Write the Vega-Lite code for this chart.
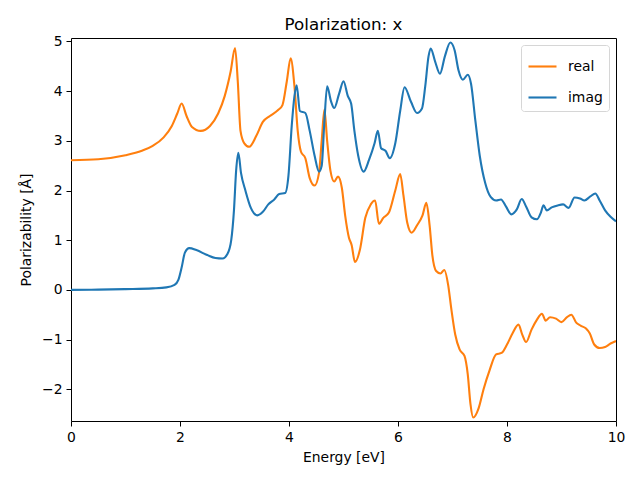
{
  "$schema": "https://vega.github.io/schema/vega-lite/v6.json",
  "width": 545,
  "height": 383,
  "autosize": "none",
  "padding": {"left": 71, "top": 38, "right": 24, "bottom": 59},
  "background": "white",
  "title": {"text": "Polarization: x", "font": "DejaVu Sans", "fontSize": 16.7, "fontWeight": "normal", "color": "black", "offset": 1},
  "config": {
    "view": {"stroke": "black", "strokeWidth": 1},
    "axis": {"grid": false, "domain": false, "tickColor": "black", "tickSize": 5, "tickWidth": 1, "labelFlush": false, "labelFont": "DejaVu Sans", "labelFontSize": 13.9, "labelColor": "black", "labelPadding": 4, "titleFont": "DejaVu Sans", "titleFontSize": 13.9, "titleFontWeight": "normal", "titleColor": "black"}
  },
  "data": {"values": [
    {"e": 0, "v": 2.61, "s": "real"},
    {"e": 0.5, "v": 2.63, "s": "real"},
    {"e": 1.0, "v": 2.71, "s": "real"},
    {"e": 1.3, "v": 2.8, "s": "real"},
    {"e": 1.5, "v": 2.9, "s": "real"},
    {"e": 1.7, "v": 3.07, "s": "real"},
    {"e": 1.85, "v": 3.3, "s": "real"},
    {"e": 1.95, "v": 3.55, "s": "real"},
    {"e": 2.03, "v": 3.75, "s": "real"},
    {"e": 2.12, "v": 3.5, "s": "real"},
    {"e": 2.22, "v": 3.28, "s": "real"},
    {"e": 2.38, "v": 3.2, "s": "real"},
    {"e": 2.55, "v": 3.3, "s": "real"},
    {"e": 2.7, "v": 3.55, "s": "real"},
    {"e": 2.82, "v": 3.9, "s": "real"},
    {"e": 2.93, "v": 4.4, "s": "real"},
    {"e": 3.01, "v": 4.87, "s": "real"},
    {"e": 3.06, "v": 4.2, "s": "real"},
    {"e": 3.11, "v": 3.2, "s": "real"},
    {"e": 3.18, "v": 2.95, "s": "real"},
    {"e": 3.27, "v": 2.88, "s": "real"},
    {"e": 3.4, "v": 3.1, "s": "real"},
    {"e": 3.52, "v": 3.38, "s": "real"},
    {"e": 3.65, "v": 3.5, "s": "real"},
    {"e": 3.8, "v": 3.62, "s": "real"},
    {"e": 3.88, "v": 3.72, "s": "real"},
    {"e": 3.96, "v": 4.2, "s": "real"},
    {"e": 4.03, "v": 4.66, "s": "real"},
    {"e": 4.1, "v": 4.1, "s": "real"},
    {"e": 4.16, "v": 3.2, "s": "real"},
    {"e": 4.22, "v": 2.78, "s": "real"},
    {"e": 4.3, "v": 2.65, "s": "real"},
    {"e": 4.38, "v": 2.25, "s": "real"},
    {"e": 4.47, "v": 2.1, "s": "real"},
    {"e": 4.55, "v": 2.35, "s": "real"},
    {"e": 4.6, "v": 3.0, "s": "real"},
    {"e": 4.65, "v": 3.63, "s": "real"},
    {"e": 4.7, "v": 3.0, "s": "real"},
    {"e": 4.76, "v": 2.4, "s": "real"},
    {"e": 4.83, "v": 2.18, "s": "real"},
    {"e": 4.9, "v": 2.28, "s": "real"},
    {"e": 4.97, "v": 2.05, "s": "real"},
    {"e": 5.03, "v": 1.5, "s": "real"},
    {"e": 5.1, "v": 1.05, "s": "real"},
    {"e": 5.15, "v": 0.9, "s": "real"},
    {"e": 5.21, "v": 0.56, "s": "real"},
    {"e": 5.3, "v": 0.8, "s": "real"},
    {"e": 5.4, "v": 1.45, "s": "real"},
    {"e": 5.5, "v": 1.72, "s": "real"},
    {"e": 5.58, "v": 1.8, "s": "real"},
    {"e": 5.65, "v": 1.33, "s": "real"},
    {"e": 5.73, "v": 1.45, "s": "real"},
    {"e": 5.83, "v": 1.55, "s": "real"},
    {"e": 5.95, "v": 2.0, "s": "real"},
    {"e": 6.04, "v": 2.33, "s": "real"},
    {"e": 6.1, "v": 1.9, "s": "real"},
    {"e": 6.17, "v": 1.35, "s": "real"},
    {"e": 6.25, "v": 1.15, "s": "real"},
    {"e": 6.35, "v": 1.3, "s": "real"},
    {"e": 6.45, "v": 1.5, "s": "real"},
    {"e": 6.52, "v": 1.75, "s": "real"},
    {"e": 6.58, "v": 1.3, "s": "real"},
    {"e": 6.63, "v": 0.7, "s": "real"},
    {"e": 6.7, "v": 0.38, "s": "real"},
    {"e": 6.78, "v": 0.33, "s": "real"},
    {"e": 6.85, "v": 0.4, "s": "real"},
    {"e": 6.92, "v": 0.1, "s": "real"},
    {"e": 6.98, "v": -0.4, "s": "real"},
    {"e": 7.05, "v": -0.9, "s": "real"},
    {"e": 7.13, "v": -1.2, "s": "real"},
    {"e": 7.22, "v": -1.33, "s": "real"},
    {"e": 7.28, "v": -1.7, "s": "real"},
    {"e": 7.33, "v": -2.3, "s": "real"},
    {"e": 7.38, "v": -2.57, "s": "real"},
    {"e": 7.48, "v": -2.38, "s": "real"},
    {"e": 7.57, "v": -2.0, "s": "real"},
    {"e": 7.68, "v": -1.62, "s": "real"},
    {"e": 7.8, "v": -1.3, "s": "real"},
    {"e": 7.9, "v": -1.27, "s": "real"},
    {"e": 8.0, "v": -1.1, "s": "real"},
    {"e": 8.1, "v": -0.88, "s": "real"},
    {"e": 8.21, "v": -0.7, "s": "real"},
    {"e": 8.28, "v": -0.9, "s": "real"},
    {"e": 8.35, "v": -1.05, "s": "real"},
    {"e": 8.45, "v": -0.8, "s": "real"},
    {"e": 8.55, "v": -0.6, "s": "real"},
    {"e": 8.64, "v": -0.48, "s": "real"},
    {"e": 8.71, "v": -0.62, "s": "real"},
    {"e": 8.79, "v": -0.55, "s": "real"},
    {"e": 8.9, "v": -0.58, "s": "real"},
    {"e": 9.0, "v": -0.65, "s": "real"},
    {"e": 9.1, "v": -0.55, "s": "real"},
    {"e": 9.18, "v": -0.5, "s": "real"},
    {"e": 9.27, "v": -0.66, "s": "real"},
    {"e": 9.35, "v": -0.72, "s": "real"},
    {"e": 9.45, "v": -0.78, "s": "real"},
    {"e": 9.52, "v": -0.88, "s": "real"},
    {"e": 9.6, "v": -1.1, "s": "real"},
    {"e": 9.7, "v": -1.17, "s": "real"},
    {"e": 9.8, "v": -1.15, "s": "real"},
    {"e": 9.9, "v": -1.08, "s": "real"},
    {"e": 10.0, "v": -1.03, "s": "real"},
    {"e": 0, "v": 0.0, "s": "imag"},
    {"e": 0.5, "v": 0.005, "s": "imag"},
    {"e": 1.0, "v": 0.015, "s": "imag"},
    {"e": 1.5, "v": 0.03, "s": "imag"},
    {"e": 1.75, "v": 0.05, "s": "imag"},
    {"e": 1.9, "v": 0.1, "s": "imag"},
    {"e": 1.97, "v": 0.2, "s": "imag"},
    {"e": 2.03, "v": 0.45, "s": "imag"},
    {"e": 2.09, "v": 0.75, "s": "imag"},
    {"e": 2.17, "v": 0.84, "s": "imag"},
    {"e": 2.3, "v": 0.8, "s": "imag"},
    {"e": 2.5, "v": 0.7, "s": "imag"},
    {"e": 2.65, "v": 0.64, "s": "imag"},
    {"e": 2.78, "v": 0.63, "s": "imag"},
    {"e": 2.87, "v": 0.72, "s": "imag"},
    {"e": 2.94, "v": 1.0, "s": "imag"},
    {"e": 2.99, "v": 1.6, "s": "imag"},
    {"e": 3.03, "v": 2.4, "s": "imag"},
    {"e": 3.07, "v": 2.76, "s": "imag"},
    {"e": 3.12, "v": 2.35, "s": "imag"},
    {"e": 3.2, "v": 2.0, "s": "imag"},
    {"e": 3.3, "v": 1.65, "s": "imag"},
    {"e": 3.42, "v": 1.5, "s": "imag"},
    {"e": 3.52, "v": 1.57, "s": "imag"},
    {"e": 3.62, "v": 1.72, "s": "imag"},
    {"e": 3.73, "v": 1.82, "s": "imag"},
    {"e": 3.82, "v": 1.93, "s": "imag"},
    {"e": 3.93, "v": 1.95, "s": "imag"},
    {"e": 3.99, "v": 2.3, "s": "imag"},
    {"e": 4.05, "v": 3.3, "s": "imag"},
    {"e": 4.1, "v": 3.9, "s": "imag"},
    {"e": 4.14, "v": 4.12, "s": "imag"},
    {"e": 4.2, "v": 3.6, "s": "imag"},
    {"e": 4.3, "v": 3.56, "s": "imag"},
    {"e": 4.38, "v": 3.2, "s": "imag"},
    {"e": 4.47, "v": 2.7, "s": "imag"},
    {"e": 4.55, "v": 2.38, "s": "imag"},
    {"e": 4.6, "v": 2.5, "s": "imag"},
    {"e": 4.65, "v": 3.4, "s": "imag"},
    {"e": 4.7, "v": 4.1, "s": "imag"},
    {"e": 4.77, "v": 3.8, "s": "imag"},
    {"e": 4.83, "v": 3.66, "s": "imag"},
    {"e": 4.92, "v": 3.95, "s": "imag"},
    {"e": 5.0, "v": 4.2, "s": "imag"},
    {"e": 5.08, "v": 3.9, "s": "imag"},
    {"e": 5.14, "v": 3.75, "s": "imag"},
    {"e": 5.2, "v": 3.2, "s": "imag"},
    {"e": 5.27, "v": 2.7, "s": "imag"},
    {"e": 5.37, "v": 2.38, "s": "imag"},
    {"e": 5.47, "v": 2.62, "s": "imag"},
    {"e": 5.57, "v": 2.95, "s": "imag"},
    {"e": 5.63, "v": 3.2, "s": "imag"},
    {"e": 5.69, "v": 2.85, "s": "imag"},
    {"e": 5.77, "v": 2.8, "s": "imag"},
    {"e": 5.85, "v": 2.65, "s": "imag"},
    {"e": 5.95, "v": 2.95, "s": "imag"},
    {"e": 6.04, "v": 3.6, "s": "imag"},
    {"e": 6.12, "v": 4.08, "s": "imag"},
    {"e": 6.24, "v": 3.78, "s": "imag"},
    {"e": 6.35, "v": 3.56, "s": "imag"},
    {"e": 6.44, "v": 3.65, "s": "imag"},
    {"e": 6.5, "v": 4.1, "s": "imag"},
    {"e": 6.56, "v": 4.7, "s": "imag"},
    {"e": 6.6, "v": 4.86, "s": "imag"},
    {"e": 6.68, "v": 4.6, "s": "imag"},
    {"e": 6.77, "v": 4.35, "s": "imag"},
    {"e": 6.86, "v": 4.7, "s": "imag"},
    {"e": 6.96, "v": 4.98, "s": "imag"},
    {"e": 7.04, "v": 4.82, "s": "imag"},
    {"e": 7.11, "v": 4.42, "s": "imag"},
    {"e": 7.19, "v": 4.23, "s": "imag"},
    {"e": 7.28, "v": 4.33, "s": "imag"},
    {"e": 7.34, "v": 4.15, "s": "imag"},
    {"e": 7.42, "v": 3.4, "s": "imag"},
    {"e": 7.5, "v": 2.7, "s": "imag"},
    {"e": 7.6, "v": 2.15, "s": "imag"},
    {"e": 7.7, "v": 1.87, "s": "imag"},
    {"e": 7.8, "v": 1.8, "s": "imag"},
    {"e": 7.89, "v": 1.82, "s": "imag"},
    {"e": 7.98, "v": 1.68, "s": "imag"},
    {"e": 8.08, "v": 1.52, "s": "imag"},
    {"e": 8.18, "v": 1.62, "s": "imag"},
    {"e": 8.27, "v": 1.83, "s": "imag"},
    {"e": 8.35, "v": 1.68, "s": "imag"},
    {"e": 8.45, "v": 1.46, "s": "imag"},
    {"e": 8.55, "v": 1.42, "s": "imag"},
    {"e": 8.62, "v": 1.55, "s": "imag"},
    {"e": 8.67, "v": 1.7, "s": "imag"},
    {"e": 8.73, "v": 1.6, "s": "imag"},
    {"e": 8.82, "v": 1.66, "s": "imag"},
    {"e": 8.93, "v": 1.7, "s": "imag"},
    {"e": 9.03, "v": 1.72, "s": "imag"},
    {"e": 9.13, "v": 1.65, "s": "imag"},
    {"e": 9.24, "v": 1.86, "s": "imag"},
    {"e": 9.34, "v": 1.84, "s": "imag"},
    {"e": 9.42, "v": 1.8, "s": "imag"},
    {"e": 9.53, "v": 1.88, "s": "imag"},
    {"e": 9.62, "v": 1.94, "s": "imag"},
    {"e": 9.7, "v": 1.8, "s": "imag"},
    {"e": 9.8, "v": 1.6, "s": "imag"},
    {"e": 9.9, "v": 1.47, "s": "imag"},
    {"e": 10.0, "v": 1.38, "s": "imag"}
  ]},
  "mark": {"type": "line", "strokeWidth": 2.1, "interpolate": "monotone", "clip": true},
  "encoding": {
    "x": {"field": "e", "type": "quantitative", "title": "Energy [eV]", "scale": {"domain": [0, 10], "nice": false, "zero": false}, "axis": {"values": [0, 2, 4, 6, 8, 10], "titlePadding": 7}},
    "y": {"field": "v", "type": "quantitative", "title": "Polarizability [Å]", "scale": {"domain": [-2.64, 5.07], "nice": false, "zero": false}, "axis": {"values": [-2, -1, 0, 1, 2, 3, 4, 5], "titlePadding": 8}},
    "color": {"field": "s", "type": "nominal", "scale": {"domain": ["real", "imag"], "range": ["#ff7f0e", "#1f77b4"]}, "legend": {"title": null, "orient": "top-right", "offset": 7, "symbolType": "stroke", "symbolSize": 784, "symbolStrokeWidth": 2.1, "labelFont": "DejaVu Sans", "labelFontSize": 13.9, "labelColor": "black", "labelOffset": 10, "rowPadding": 8, "padding": 6, "cornerRadius": 3, "strokeColor": "#d6d6d6", "fillColor": "rgba(255,255,255,0.8)"}}
  }
}
